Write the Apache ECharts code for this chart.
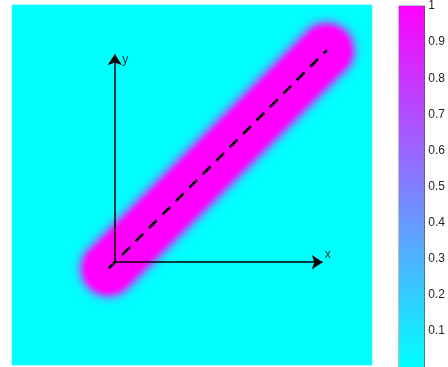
<!DOCTYPE html>
<html><head><meta charset="utf-8">
<script src="https://cdn.jsdelivr.net/npm/echarts@6/dist/echarts.min.js"></script>
<style>html,body{margin:0;padding:0;background:#fff}#c{width:448px;height:367px}</style>
</head><body><div id="c"></div>
<script>
// ---- data ----
const domainX = [-0.5, 1.25];
const domainY = [-0.5, 1.25];
const gridCells = 180;
const segmentStart = [-0.03, -0.03];
const segmentEnd = [1.03, 1.03];
const plateauRadius = 0.1;   // value 1 inside this distance
const tailSigma = 0.042;     // gaussian fall-off outside the plateau
const axisArrows = [ [[0,0],[1.01,0]], [[0,0],[0,1.01]] ];
const axisNames = ['x', 'y'];
const axisNamePos = [[1.035, 0.035], [0.05, 0.985]];
const colorbarTicks = [0.1,0.2,0.3,0.4,0.5,0.6,0.7,0.8,0.9,1];

// ---- field ----
function distToSeg(px, py){
  const ax=segmentStart[0], ay=segmentStart[1], bx=segmentEnd[0], by=segmentEnd[1];
  const dx=bx-ax, dy=by-ay;
  let t=((px-ax)*dx+(py-ay)*dy)/(dx*dx+dy*dy);
  t=Math.max(0,Math.min(1,t));
  const cx=ax+t*dx, cy=ay+t*dy;
  return Math.hypot(px-cx, py-cy);
}
const cats=[]; for(let i=0;i<gridCells;i++) cats.push(i);
const heat=[];
for(let i=0;i<gridCells;i++){
  const x=domainX[0]+(i+0.5)*(domainX[1]-domainX[0])/gridCells;
  for(let j=0;j<gridCells;j++){
    const y=domainY[0]+(j+0.5)*(domainY[1]-domainY[0])/gridCells;
    const d=distToSeg(x,y);
    const e=Math.max(0,d-plateauRadius)/tailSigma;
    heat.push([i,j,Math.exp(-e*e)]);
  }
}

const chart=echarts.init(document.getElementById('c'),null,{renderer:'canvas'});
const font='Liberation Sans, Arial, sans-serif';
chart.setOption({
  animation:false,
  backgroundColor:'#fff',
  grid:[
    {left:12, top:5, width:360, height:360},
    {left:399, top:5, width:27, height:363, show:true, borderColor:'#262626', borderWidth:0.6, backgroundColor:'transparent'}
  ],
  xAxis:[
    {type:'category', data:cats, gridIndex:0, show:false, boundaryGap:true},
    {type:'value', gridIndex:0, min:domainX[0], max:domainX[1], show:false},
    {type:'category', data:['cb'], gridIndex:1, show:false}
  ],
  yAxis:[
    {type:'category', data:cats, gridIndex:0, show:false, boundaryGap:true},
    {type:'value', gridIndex:0, min:domainY[0], max:domainY[1], show:false},
    {type:'value', gridIndex:1, min:0, max:1, interval:0.1, position:'right',
     axisLine:{show:true, lineStyle:{color:'#262626', width:0.6}},
     axisTick:{show:true, inside:true, length:3, lineStyle:{color:'#262626', width:0.6}},
     splitLine:{show:false},
     axisLabel:{color:'#262626', fontFamily:font, fontSize:12, margin:4,
       formatter:function(v){ const r=Math.round(v*10)/10; return colorbarTicks.indexOf(r)>=0 ? String(r) : ''; }}
    }
  ],
  visualMap:{show:false, min:0, max:1, seriesIndex:0, inRange:{color:['#00FFFF','#FF00FF']}},
  series:[
    {type:'heatmap', xAxisIndex:0, yAxisIndex:0, data:heat, progressive:0, itemStyle:{borderWidth:0}},
    {type:'lines', coordinateSystem:'cartesian2d', xAxisIndex:1, yAxisIndex:1, polyline:false,
     symbol:['none','arrow'], symbolSize:[7,11],
     lineStyle:{color:'#000', width:1.5, opacity:1},
     data:axisArrows.map(c=>({coords:c})), z:5},
    {type:'line', xAxisIndex:1, yAxisIndex:1, symbol:'none',
     data:[segmentStart, segmentEnd],
     lineStyle:{color:'#000', width:2.6, type:[11,8]}, z:6},
    {type:'scatter', xAxisIndex:1, yAxisIndex:1, symbolSize:0,
     data:axisNamePos.map((p,i)=>({value:p, name:axisNames[i]})),
     label:{show:true, position:'inside', formatter:'{b}', color:'#000', fontFamily:font, fontSize:12}, z:7},
    {type:'bar', xAxisIndex:2, yAxisIndex:2, data:[1], barWidth:'100%', silent:true,
     itemStyle:{color:new echarts.graphic.LinearGradient(0,0,0,1,[{offset:0,color:'#FF00FF'},{offset:1,color:'#00FFFF'}])}}
  ]
});
</script></body></html>
